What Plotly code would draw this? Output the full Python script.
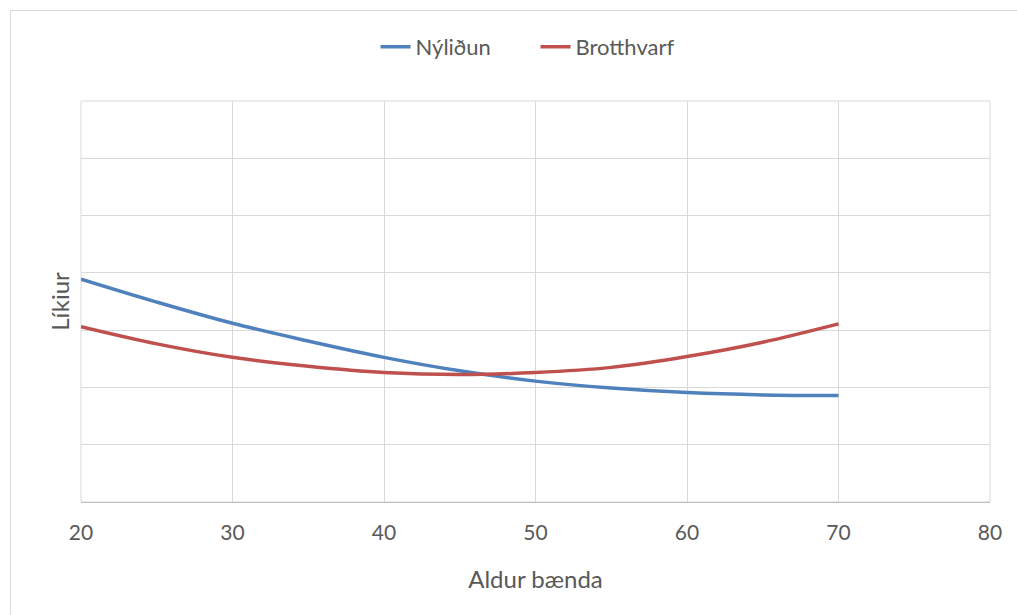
import plotly.graph_objects as go

ages = [20, 25, 30, 35, 40, 45, 50, 55, 60, 65, 70]
nylidun = [0.389, 0.349, 0.312, 0.281, 0.2525, 0.229, 0.211, 0.199, 0.191, 0.187, 0.186]
brotthvarf = [0.306, 0.276, 0.2525, 0.237, 0.226, 0.2225, 0.226, 0.235, 0.254, 0.279, 0.311]

x_ticks = [20, 30, 40, 50, 60, 70, 80]

fig = go.Figure()
fig.add_trace(go.Scatter(x=ages, y=nylidun, mode="lines", name="Nýliðun",
                         line=dict(color="#4F81BD", width=3.5, shape="spline", smoothing=1.0)))
fig.add_trace(go.Scatter(x=ages, y=brotthvarf, mode="lines", name="Brotthvarf",
                         line=dict(color="#C0504D", width=3.5, shape="spline", smoothing=1.0)))

font_family = "Lato, Open Sans, sans-serif"
fig.update_layout(
    width=1017, height=615,
    margin=dict(l=81, r=27, t=101, b=113),
    paper_bgcolor="white", plot_bgcolor="white",
    font=dict(family=font_family, color="#595959", size=16),
    showlegend=True,
    legend=dict(orientation="h", x=0.5, xanchor="center", y=1.135, yanchor="middle",
                font=dict(size=22, color="#595959"), entrywidth=115),
    xaxis=dict(range=[20, 80], tickvals=x_ticks, showgrid=True, gridcolor="#D9D9D9",
               gridwidth=1, zeroline=False, showline=True, linecolor="#BFBFBF",
               linewidth=1, ticks="", ticklabelstandoff=12,
               tickfont=dict(size=21, color="#595959"),
               title=dict(text="Aldur bænda", font=dict(size=24, color="#595959"), standoff=27)),
    yaxis=dict(range=[0, 0.7], dtick=0.1, showticklabels=False, showgrid=True,
               gridcolor="#D9D9D9", gridwidth=1, zeroline=False, showline=False,
               title=dict(text="Líkiur", font=dict(size=24, color="#595959"), standoff=3)),
)

# plot-area frame (gridline coloured)
fig.add_shape(type="rect", xref="paper", yref="paper", x0=0, x1=1, y0=0, y1=1,
              line=dict(color="#D9D9D9", width=1), layer="below")

# outer chart border (top and left visible)
fig.add_shape(type="rect", xref="paper", yref="paper",
              x0=(10.5 - 81) / 909, x1=(1030 - 81) / 909,
              y0=(502 - 630) / 401, y1=(502 - 10.5) / 401,
              line=dict(color="#D9D9D9", width=1), layer="below")

fig.write_html("out.html", config={"displayModeBar": False},
               post_script="document.body.style.margin='0px';")
